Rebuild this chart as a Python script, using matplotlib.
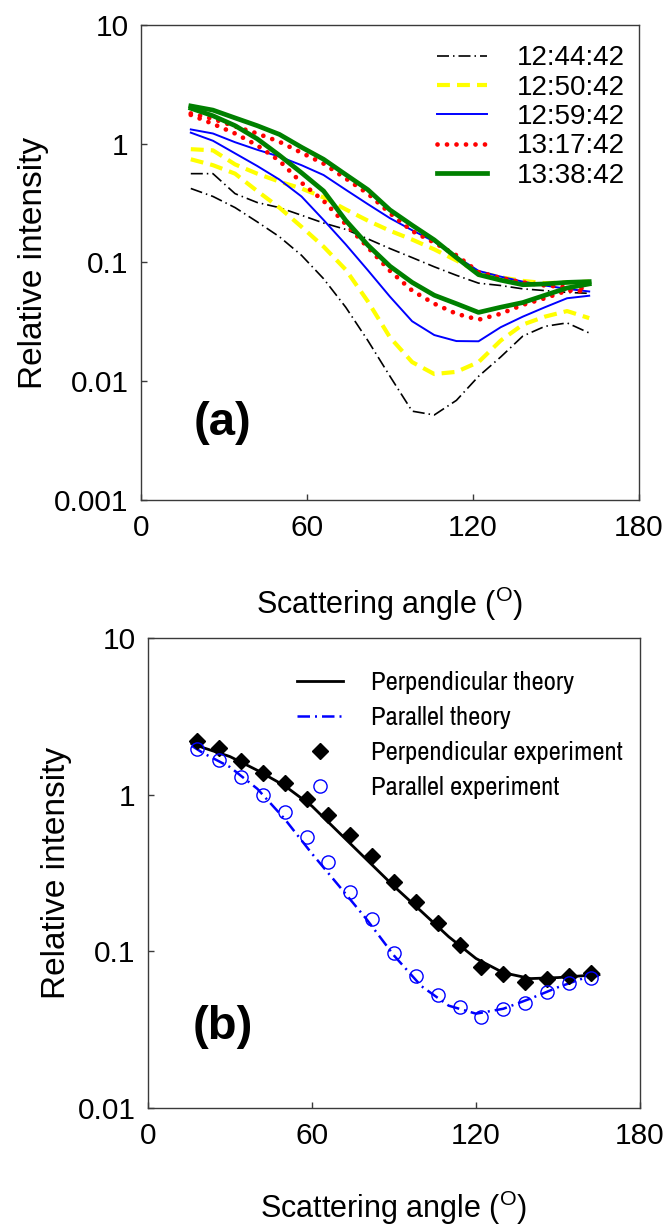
import matplotlib
matplotlib.use("Agg")
import matplotlib.pyplot as plt
from matplotlib import font_manager

plt.rcParams['font.family'] = ['Liberation Sans', 'DejaVu Sans']
plt.rcParams['mathtext.fontset'] = 'custom'
plt.rcParams['mathtext.rm'] = 'Liberation Sans'
plt.rcParams['mathtext.it'] = 'Liberation Sans'

# ---------------- data ----------------
angles = [18, 26, 34, 42, 50, 58, 66, 74, 82, 90, 98, 106, 114, 122, 130, 138, 146, 154, 162]

times = ['12:44:42', '12:50:42', '12:59:42', '13:17:42', '13:38:42']

# panel (a): perpendicular (upper) and parallel (lower) intensity for each time
perp_1244 = [0.56, 0.56, 0.38, 0.32, 0.29, 0.25, 0.215, 0.19, 0.158, 0.131, 0.11, 0.092, 0.078, 0.067, 0.064, 0.06, 0.058, 0.056, 0.055]
par_1244 = [0.42, 0.36, 0.29, 0.22, 0.165, 0.115, 0.073, 0.042, 0.022, 0.011, 0.0056, 0.0052, 0.0069, 0.011, 0.016, 0.024, 0.029, 0.031, 0.0255]

perp_1250 = [0.9, 0.88, 0.67, 0.56, 0.48, 0.42, 0.353, 0.28, 0.225, 0.185, 0.156, 0.129, 0.104, 0.083, 0.075, 0.07, 0.067, 0.068, 0.069]
par_1250 = [0.74, 0.66, 0.56, 0.40, 0.29, 0.2, 0.136, 0.087, 0.047, 0.0234, 0.0145, 0.0115, 0.012, 0.0145, 0.022, 0.03, 0.035, 0.039, 0.034]

perp_1259 = [1.32, 1.22, 1.03, 0.89, 0.78, 0.66, 0.545, 0.41, 0.31, 0.236, 0.187, 0.15, 0.112, 0.085, 0.076, 0.069, 0.064, 0.06, 0.057]
par_1259 = [1.24, 1.06, 0.83, 0.65, 0.5, 0.36, 0.228, 0.142, 0.086, 0.0515, 0.032, 0.0245, 0.0218, 0.0217, 0.0285, 0.035, 0.042, 0.05, 0.0525]

perp_1317 = [1.8, 1.62, 1.4, 1.22, 1.04, 0.84, 0.68, 0.51, 0.38, 0.26, 0.184, 0.147, 0.115, 0.083, 0.074, 0.068, 0.064, 0.062, 0.06]
par_1317 = [1.75, 1.47, 1.22, 0.97, 0.72, 0.47, 0.33, 0.21, 0.134, 0.085, 0.058, 0.045, 0.037, 0.033, 0.037, 0.044, 0.05, 0.058, 0.057]

perp_1338 = [2.08, 1.92, 1.65, 1.42, 1.2, 0.935, 0.74, 0.55, 0.41, 0.277, 0.206, 0.155, 0.11, 0.079, 0.071, 0.065, 0.066, 0.068, 0.069]
par_1338 = [1.99, 1.72, 1.42, 1.1, 0.8, 0.57, 0.4, 0.226, 0.14, 0.093, 0.068, 0.053, 0.045, 0.038, 0.042, 0.046, 0.053, 0.061, 0.066]

# panel (b): theory vs experiment
theory_angles = [16, 20, 30, 40, 50, 60, 70, 80, 90, 100, 110, 120, 130, 140, 150, 160, 165]
perp_theory = [2.12, 2.0, 1.75, 1.43, 1.14, 0.845, 0.57, 0.385, 0.26, 0.18, 0.124, 0.09, 0.073, 0.067, 0.068, 0.07, 0.071]
par_theory = [2.05, 1.85, 1.5, 1.09, 0.7, 0.42, 0.26, 0.16, 0.094, 0.06, 0.045, 0.04, 0.043, 0.05, 0.059, 0.068, 0.07]

perp_exp = [2.2, 1.98, 1.63, 1.37, 1.18, 0.94, 0.74, 0.553, 0.405, 0.279, 0.207, 0.151, 0.11, 0.08, 0.072, 0.064, 0.067, 0.07, 0.073]
par_exp = [1.95, 1.66, 1.29, 1.0, 0.78, 0.54, 0.373, 0.24, 0.16, 0.097, 0.07, 0.053, 0.044, 0.038, 0.043, 0.047, 0.055, 0.063, 0.068]

x_ticks = [0, 60, 120, 180]
x_ticklabels = ['0', '60', '120', '180']
ya_ticks = [0.001, 0.01, 0.1, 1, 10]
ya_ticklabels = ['0.001', '0.01', '0.1', '1', '10']
yb_ticks = [0.01, 0.1, 1, 10]
yb_ticklabels = ['0.01', '0.1', '1', '10']

xlabel = r'Scattering angle ($^{\mathrm{O}}$)'
ylabel = 'Relative intensity'
legend_b_labels = ['Perpendicular theory', 'Parallel theory',
                   'Perpendicular experiment', 'Parallel experiment']


# narrow sans face for the lower legend, if one is installed
def narrow_legend_font():
    picks = []
    for f in font_manager.fontManager.ttflist:
        nm = f.name.lower()
        st = str(f.stretch).lower()
        if f.style != 'normal' or str(f.weight) not in ('400', 'normal', 'regular'):
            continue
        if 'serif' in nm and 'sans' not in nm:
            continue
        if 'mono' in nm:
            continue
        if 'narrow' in nm or 'condensed' in nm or 'condensed' in st:
            rank = 0 if 'narrow' in nm else 1
            picks.append((rank, f.fname))
    if picks:
        picks.sort()
        return font_manager.FontProperties(fname=picks[0][1], size=19)
    return font_manager.FontProperties(family='Liberation Sans', size=16)


# ---------------- figure ----------------
W, H = 667, 1228
fig = plt.figure(figsize=(W / 100, H / 100), dpi=100)
renderer = fig.canvas.get_renderer()


def px_axes(l, t, r, b):
    return fig.add_axes([l / W, 1 - b / H, (r - l) / W, (b - t) / H])


ax_a = px_axes(141, 25, 639, 500)
ax_b = px_axes(148, 638, 640, 1108)

spine_col = '#3a3a3a'
tick_fs = 21.5


def style_axes(ax, yticks, yticklabels, ylim):
    ax.set_yscale('log')
    ax.set_xlim(0, 180)
    ax.set_ylim(*ylim)
    ax.set_xticks(x_ticks)
    ax.set_xticklabels(x_ticklabels)
    ax.set_yticks(yticks)
    ax.set_yticklabels(yticklabels)
    ax.yaxis.set_minor_locator(matplotlib.ticker.NullLocator())
    for s in ax.spines.values():
        s.set_color(spine_col)
        s.set_linewidth(1.0)
    ax.tick_params(direction='in', length=4.5, width=1.0, color=spine_col,
                   labelsize=tick_fs, top=False, right=False)
    ax.tick_params(axis='x', pad=10)
    ax.tick_params(axis='y', pad=9)
    ax.set_xlabel(xlabel, fontsize=22)
    ax.set_ylabel(ylabel, fontsize=24)


# ---- panel (a) ----
styles = [
    dict(color='black', lw=1.2, ls=(0, (7.2, 2.4, 0.9, 2.4))),
    dict(color='#ffff00', lw=3.0, ls=(0, (3.1, 1.7))),
    dict(color='#0000ff', lw=1.4, ls='-'),
    dict(color='#ff0000', lw=3.4, ls=(0, (0.01, 2.0)), dash_capstyle='round'),
    dict(color='#008000', lw=3.4, ls='-'),
]
perp_sets = [perp_1244, perp_1250, perp_1259, perp_1317, perp_1338]
par_sets = [par_1244, par_1250, par_1259, par_1317, par_1338]

for t, st, pv, qv in zip(times, styles, perp_sets, par_sets):
    ax_a.plot(angles, pv, label=t, **st)
    ax_a.plot(angles, qv, **st)

style_axes(ax_a, ya_ticks, ya_ticklabels, (0.001, 10))
ax_a.xaxis.set_label_coords(0.5, -0.179)
ax_a.yaxis.set_label_coords(-0.185, 0.5)

ax_a.legend(loc='upper left', bbox_to_anchor=(0.594, 0.957), frameon=False,
            fontsize=20, handlelength=1.8, handletextpad=1.1,
            labelspacing=0.12, borderpad=0, borderaxespad=0)

ax_a.text(0.163, 0.162, '(a)', transform=ax_a.transAxes, fontsize=34,
          fontweight='bold', ha='center', va='center')

# ---- panel (b) ----
ax_b.plot(theory_angles, perp_theory, color='black', lw=2.0, ls='-',
          label=legend_b_labels[0])
ax_b.plot(theory_angles, par_theory, color='#0000ff', lw=1.8,
          ls=(0, (5.0, 2.0, 0.8, 2.0)), label=legend_b_labels[1])
ax_b.plot(angles, perp_exp, ls='none', marker='D', ms=7.8, mfc='black',
          mec='black', label=legend_b_labels[2])
ax_b.plot(angles, par_exp, ls='none', marker='o', ms=9.5, mfc='none',
          mec='#0000ff', mew=1.0, label=legend_b_labels[3])

style_axes(ax_b, yb_ticks, yb_ticklabels, (0.01, 10))
ax_b.xaxis.set_label_coords(0.5, -0.172)
ax_b.yaxis.set_label_coords(-0.154, 0.5)

# size the legend font so that the longest entry spans ~252 px
leg_prop = narrow_legend_font()
probe = fig.text(0, 0, legend_b_labels[2], fontproperties=leg_prop)
w0 = probe.get_window_extent(renderer).width
leg_prop.set_size(leg_prop.get_size_in_points() * 252.0 / w0)
probe.set_fontproperties(leg_prop)
h_txt = probe.get_window_extent(renderer).height
probe.remove()

em_px = leg_prop.get_size_in_points() / 72 * 100
row_pitch = 35.0
first_row_center = 683.0
anchor_y = 1 - (first_row_center - h_txt / 2 - 638) / 470
ax_b.legend(loc='upper left', bbox_to_anchor=(0.303, anchor_y), frameon=False,
            prop=leg_prop, handlelength=46 / em_px, handletextpad=28 / em_px,
            labelspacing=(row_pitch - h_txt) / em_px,
            borderpad=0, borderaxespad=0)

ax_b.text(0.153, 0.172, '(b)', transform=ax_b.transAxes, fontsize=34,
          fontweight='bold', ha='center', va='center')

fig.savefig('out.png', dpi=100)
